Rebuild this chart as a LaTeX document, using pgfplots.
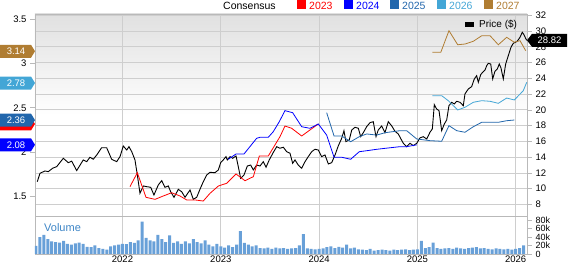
\documentclass[border=0pt]{standalone}
\usepackage{pgfplots}
\pgfplotsset{compat=1.18}
\usepackage{fontspec}
\setmainfont{Liberation Sans}
\definecolor{c23}{RGB}{255,0,0}
\definecolor{c24}{RGB}{0,0,255}
\definecolor{c25}{RGB}{33,102,172}
\definecolor{c26}{RGB}{67,166,214}
\definecolor{c27}{RGB}{176,125,50}
\definecolor{volc}{RGB}{104,160,216}
\definecolor{gridc}{RGB}{206,206,206}
\definecolor{axc}{RGB}{185,185,185}
\definecolor{vollab}{RGB}{61,133,198}
\newcommand\lflag[3]{\fill[#1] (#2) -- ++(-4pt,6.5pt) -- ++(-31pt,0) -- ++(0,-13pt) -- ++(31pt,0) -- cycle;
  \node[text=white, font=\fontsize{9.5}{10}\selectfont, inner sep=0pt] at ([xshift=-19pt]#2) {#3};}
\begin{document}
\begin{tikzpicture}
\useasboundingbox (0,0) rectangle (568pt,264pt);
\pgfplotsset{
  common/.style={scale only axis, width=492pt, xmin=2021.11, xmax=2026.115,
    ticklabel style={font=\fontsize{9.5}{10}\selectfont},
    /pgf/number format/assume math mode=true,
    tick align=outside, major tick length=5pt,
    tick style={axc, line width=0.6pt},
    axis line style={axc, line width=0.8pt},
    grid style={gridc, line width=0.8pt}},
}
% ---------------- Price axis (right) ----------------
\begin{axis}[common, at={(35pt,47.3pt)}, anchor=south west, height=202.7pt,
  ymin=6.45, ymax=32.16, ytick={8,10,...,32}, ytick pos=right, yticklabel pos=right,
  xtick={2022,2023,2024,2025,2026}, xticklabels={}, x tick style={draw=none},
  xmajorgrids, ymajorgrids,
  axis background/.style={top color=black!12, bottom color=white, middle color=white}]
\addplot[black, line width=0.9pt] coordinates {
(2021.133,10.89) (2021.161,11.96) (2021.212,12.25) (2021.245,12.16) (2021.290,12.6)
(2021.331,12.8) (2021.398,13.86) (2021.449,13.3) (2021.483,13.5) (2021.534,12.3)
(2021.601,13.65) (2021.636,13.43) (2021.669,13.99) (2021.703,13.74) (2021.738,14.28)
(2021.788,15.2) (2021.839,15.2) (2021.890,13.73) (2021.941,13.43) (2021.975,14.07)
(2022.008,15.42) (2022.043,14.91) (2022.066,15.33) (2022.094,14.7) (2022.127,13.65)
(2022.151,11.74) (2022.178,9.42) (2022.212,10.35) (2022.246,10.26) (2022.287,10.18)
(2022.320,9.2) (2022.364,10.47) (2022.399,11.02) (2022.432,10.18) (2022.466,10.35)
(2022.490,9.62) (2022.524,8.91) (2022.568,9.92) (2022.602,9.62) (2022.636,8.91)
(2022.687,9.84) (2022.720,8.66) (2022.755,8.91) (2022.788,9.92) (2022.822,10.89)
(2022.857,11.74) (2022.890,12.08) (2022.941,12.03) (2022.975,12.38) (2022.999,13.3)
(2023.025,13.65) (2023.053,14.07) (2023.066,13.65) (2023.094,14.07) (2023.121,13.86)
(2023.155,14.15) (2023.178,12.8) (2023.202,11.32) (2023.236,11.74) (2023.270,12.88)
(2023.304,13.0) (2023.331,12.38) (2023.365,13.0) (2023.399,12.88) (2023.432,13.43)
(2023.460,12.72) (2023.493,13.65) (2023.534,14.6) (2023.569,15.33) (2023.602,15.13)
(2023.636,15.26) (2023.670,14.7) (2023.704,14.5) (2023.731,13.22) (2023.755,13.65)
(2023.788,13.0) (2023.823,12.59) (2023.857,13.43) (2023.890,14.07) (2023.925,14.7)
(2023.958,15.0) (2023.992,14.91) (2024.026,14.07) (2024.060,14.28) (2024.094,13.14)
(2024.128,13.3) (2024.162,14.28) (2024.195,15.42) (2024.230,16.4) (2024.253,17.36)
(2024.273,15.97) (2024.307,16.18) (2024.332,17.45) (2024.365,17.79) (2024.399,17.67)
(2024.423,16.6) (2024.450,17.11) (2024.484,17.87) (2024.518,18.38) (2024.551,18.5)
(2024.579,16.6) (2024.602,17.45) (2024.637,17.96) (2024.670,17.11) (2024.704,18.5)
(2024.739,17.96) (2024.772,17.28) (2024.806,16.94) (2024.833,16.3) (2024.857,15.76)
(2024.891,15.33) (2024.925,15.76) (2024.958,15.46) (2024.993,15.76) (2025.026,16.44)
(2025.060,16.6) (2025.095,16.3) (2025.128,17.16) (2025.152,17.58) (2025.172,20.66)
(2025.196,20.11) (2025.220,19.9) (2025.247,17.36) (2025.274,18.21) (2025.298,18.72)
(2025.321,20.53) (2025.349,20.96) (2025.375,20.75) (2025.400,21.09) (2025.433,20.96)
(2025.467,20.53) (2025.484,22.02) (2025.518,22.65) (2025.552,22.95) (2025.579,23.92)
(2025.603,24.34) (2025.620,23.5) (2025.644,24.47) (2025.664,24.77) (2025.688,25.06)
(2025.705,25.6) (2025.721,25.9) (2025.746,25.82) (2025.766,23.92) (2025.789,24.9)
(2025.813,25.19) (2025.833,25.82) (2025.850,25.32) (2025.874,23.92) (2025.898,25.82)
(2025.925,26.88) (2025.952,27.94) (2025.976,28.45) (2026.000,28.58) (2026.020,28.78)
(2026.044,29.21) (2026.067,29.84) (2026.084,29.54) (2026.104,28.99) (2026.115,28.82)
};
\coordinate (pflag) at (axis cs:2026.115,28.82);
\end{axis}
% ---------------- EPS axis (left) ----------------
\begin{axis}[common, at={(35pt,47.3pt)}, anchor=south west, height=202.7pt,
  ymin=1.2654, ymax=3.5623, hide x axis, axis y line*=left,
  ytick={1.5,2,2.5,3,3.5}, yticklabels={1.5,2,2.5,3,3.5}]
\addplot[c23, line width=0.8pt] coordinates {
(2022.076,1.605) (2022.151,1.764) (2022.239,1.485) (2022.331,1.462) (2022.415,1.50)
(2022.500,1.537) (2022.585,1.50) (2022.653,1.455) (2022.738,1.455) (2022.822,1.443)
(2022.890,1.53) (2022.975,1.613) (2023.060,1.644) (2023.155,1.749) (2023.246,1.673)
(2023.331,1.719) (2023.392,1.953) (2023.483,1.953) (2023.602,2.172) (2023.653,2.293)
(2023.721,2.267) (2023.823,2.18) (2023.907,2.248) (2023.992,2.316)
};
\addplot[c24, line width=0.8pt] coordinates {
(2023.076,1.916) (2023.155,1.976) (2023.236,1.976) (2023.365,2.154) (2023.399,2.165)
(2023.483,2.165) (2023.534,2.229) (2023.595,2.342) (2023.653,2.467) (2023.731,2.444)
(2023.823,2.285) (2023.907,2.267) (2023.992,2.316) (2024.077,2.19) (2024.152,1.939)
(2024.230,1.939) (2024.321,1.916) (2024.409,2.002) (2024.484,2.013) (2024.586,2.029)
(2024.670,2.04) (2024.823,2.059) (2024.891,2.059) (2024.993,2.08)
};
\addplot[c25, line width=0.8pt] coordinates {
(2024.077,2.444) (2024.152,2.18) (2024.230,2.18) (2024.321,2.115) (2024.409,2.172)
(2024.484,2.203) (2024.586,2.19) (2024.670,2.217) (2024.823,2.24) (2024.891,2.24)
(2024.993,2.146) (2025.128,2.127) (2025.247,2.12) (2025.321,2.297) (2025.400,2.24)
(2025.484,2.222) (2025.569,2.285) (2025.654,2.335) (2025.823,2.335) (2025.908,2.353)
(2025.986,2.361)
};
\addplot[c26, line width=0.8pt] coordinates {
(2025.152,2.637) (2025.247,2.637) (2025.314,2.58) (2025.410,2.475) (2025.484,2.505)
(2025.569,2.562) (2025.654,2.58) (2025.739,2.573) (2025.823,2.55) (2025.908,2.61)
(2025.986,2.588) (2026.077,2.693) (2026.112,2.788)
};
\addplot[c27, line width=0.8pt] coordinates {
(2025.152,3.128) (2025.238,3.128) (2025.321,3.373) (2025.410,3.214) (2025.484,3.222)
(2025.569,3.253) (2025.654,3.316) (2025.739,3.316) (2025.823,3.214) (2025.908,3.298)
(2025.986,3.242) (2026.044,3.26) (2026.102,3.146)
};
\coordinate (f23) at (axis cs:2021.11,2.316);
\coordinate (f24) at (axis cs:2021.11,2.08);
\coordinate (f25) at (axis cs:2021.11,2.36);
\coordinate (f26) at (axis cs:2021.11,2.78);
\coordinate (f27) at (axis cs:2021.11,3.14);
\end{axis}
% ---------------- Volume axis ----------------
\begin{axis}[common, at={(35pt,10pt)}, anchor=south west, height=37.3pt,
  ymin=0, ymax=87.8, ytick={0,20,40,60,80}, yticklabels={0,20k,40k,60k,80k},
  ytick pos=right, yticklabel pos=right,
  yticklabel style={font=\fontsize{9}{9}\selectfont},
  xtick={2022,2023,2024,2025,2026}, xticklabels={2022,2023,2024,2025,2026},
  xtick pos=bottom, x tick style={draw=none}, xmajorgrids,
  xticklabel style={font=\fontsize{9.5}{10}\selectfont, yshift=7pt}]
\addplot[ybar, bar width=3pt, fill=volc, draw=none] coordinates {
(2021.12,19) (2021.16,40) (2021.20,45) (2021.24,35) (2021.28,30) (2021.32,28) (2021.36,27)
(2021.40,31) (2021.44,24) (2021.48,22) (2021.52,25) (2021.56,27) (2021.60,24) (2021.64,17)
(2021.68,16) (2021.72,20) (2021.76,14) (2021.80,12) (2021.84,10) (2021.88,18) (2021.92,20)
(2021.96,22) (2022.00,24) (2022.04,23) (2022.08,28) (2022.12,26) (2022.16,32) (2022.20,76)
(2022.24,38) (2022.28,32) (2022.32,30) (2022.36,45) (2022.40,35) (2022.44,28) (2022.48,44)
(2022.52,26) (2022.56,30) (2022.60,24) (2022.64,30) (2022.68,25) (2022.72,35) (2022.76,28)
(2022.80,25) (2022.84,32) (2022.88,22) (2022.92,18) (2022.96,24) (2023.00,18) (2023.04,15)
(2023.08,20) (2023.12,16) (2023.16,22) (2023.20,54) (2023.24,26) (2023.28,22) (2023.32,18)
(2023.36,20) (2023.40,14) (2023.44,13) (2023.48,15) (2023.52,12) (2023.56,15) (2023.60,13)
(2023.64,14) (2023.68,12) (2023.72,13) (2023.76,14) (2023.80,20) (2023.84,47) (2023.88,13)
(2023.92,12) (2023.96,11) (2024.00,12) (2024.04,13) (2024.08,16) (2024.12,18) (2024.16,14)
(2024.20,17) (2024.24,15) (2024.28,22) (2024.32,13) (2024.36,15) (2024.40,11) (2024.44,10)
(2024.48,9) (2024.52,12) (2024.56,8) (2024.60,9) (2024.64,10) (2024.68,9) (2024.72,8)
(2024.76,10) (2024.80,9) (2024.84,10) (2024.88,11) (2024.92,9) (2024.96,10) (2025.00,11)
(2025.04,31) (2025.08,14) (2025.12,16) (2025.16,27) (2025.20,14) (2025.24,12) (2025.28,13)
(2025.32,14) (2025.36,12) (2025.40,15) (2025.44,13) (2025.48,12) (2025.52,14) (2025.56,15)
(2025.60,16) (2025.64,13) (2025.68,14) (2025.72,12) (2025.76,11) (2025.80,13) (2025.84,12)
(2025.88,11) (2025.92,12) (2025.96,10) (2026.00,12) (2026.04,14) (2026.08,20)
};
\end{axis}
% ---------------- Flags ----------------
\lflag{c23}{f23}{}
\lflag{c25}{f25}{2.36}
\lflag{c24}{f24}{2.08}
\lflag{c26}{f26}{2.78}
\lflag{c27}{f27}{3.14}
\fill[black] (pflag) -- ++(5pt,6.5pt) -- ++(35pt,0) -- ++(0,-13pt) -- ++(-35pt,0) -- cycle;
\node[text=white, font=\fontsize{9.5}{10}\selectfont, inner sep=0pt] at ([xshift=22.5pt]pflag) {28.82};
% ---------------- Legends and labels ----------------
\node[anchor=west, inner sep=0pt, font=\fontsize{10.5}{11}\selectfont] at (223pt,258.5pt) {Consensus};
\fill[c23] (297pt,254.5pt) rectangle ++(9pt,9pt);
\node[anchor=west, inner sep=0pt, text=c23, font=\fontsize{10.5}{11}\selectfont] at (309pt,258.5pt) {2023};
\fill[c24] (344pt,254.5pt) rectangle ++(9pt,9pt);
\node[anchor=west, inner sep=0pt, text=c24, font=\fontsize{10.5}{11}\selectfont] at (356pt,258.5pt) {2024};
\fill[c25] (390pt,254.5pt) rectangle ++(9pt,9pt);
\node[anchor=west, inner sep=0pt, text=c25, font=\fontsize{10.5}{11}\selectfont] at (402pt,258.5pt) {2025};
\fill[c26] (437pt,254.5pt) rectangle ++(9pt,9pt);
\node[anchor=west, inner sep=0pt, text=c26, font=\fontsize{10.5}{11}\selectfont] at (449pt,258.5pt) {2026};
\fill[c27] (484pt,254.5pt) rectangle ++(9pt,9pt);
\node[anchor=west, inner sep=0pt, text=c27, font=\fontsize{10.5}{11}\selectfont] at (496pt,258.5pt) {2027};
\fill[black] (465pt,236.5pt) rectangle ++(9pt,5pt);
\node[anchor=west, inner sep=0pt, font=\fontsize{10}{11}\selectfont] at (479pt,239pt) {Price (\$)};
\node[anchor=west, inner sep=0pt, text=vollab, font=\fontsize{11}{12}\selectfont] at (44pt,36pt) {Volume};
\end{tikzpicture}
\end{document}
